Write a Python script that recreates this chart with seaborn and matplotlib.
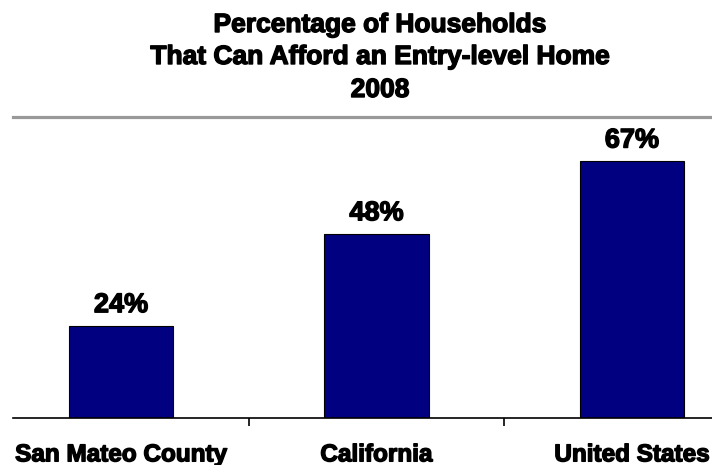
import matplotlib
matplotlib.use("Agg")
import matplotlib.pyplot as plt
import matplotlib.patheffects as pe
import seaborn as sns
import pandas as pd

categories = ["San Mateo County", "California", "United States"]
values = [24, 48, 67]
value_labels = ["24%", "48%", "67%"]
title_lines = ["Percentage of Households", "That Can Afford an Entry-level Home", "2008"]

sns.set_theme(style="white")
plt.rcParams["font.family"] = ["Liberation Sans", "DejaVu Sans"]

W, H = 712, 465
heavy = [pe.withStroke(linewidth=1.0, foreground="black")]

fig = plt.figure(figsize=(W / 100, H / 100), dpi=100)
# plot area: x from 13px to the right edge, y from 117px to 418px
ax = fig.add_axes([13 / W, (H - 418) / H, (W - 13) / W, (418 - 117) / H])

df = pd.DataFrame({"cat": categories, "val": values})
sns.barplot(data=df, x="cat", y="val", ax=ax, color="#000080", saturation=1,
            width=0.41, edgecolor="black", linewidth=0.8)

ax.set_xlim(-0.423, 2.313)
ax.set_ylim(0, 78.6)
ax.set_xlabel("")
ax.set_ylabel("")
ax.set_yticks([])

for sp in ("left", "right"):
    ax.spines[sp].set_visible(False)
ax.spines["top"].set_color("#999999")
ax.spines["top"].set_linewidth(2.3)
ax.spines["bottom"].set_color("black")
ax.spines["bottom"].set_linewidth(1.2)

ax.set_xticks(range(len(categories)))
ax.set_xticklabels(categories, fontsize=17.5, fontweight="bold", color="black")
for lab in ax.get_xticklabels():
    lab.set_verticalalignment("baseline")
    lab.set_path_effects(heavy)
ax.set_xticks([0.5, 1.5], minor=True)
ax.tick_params(axis="x", which="major", length=0, pad=31.2)
ax.tick_params(axis="x", which="minor", length=6, width=1.2, color="black",
               direction="out", bottom=True)

for i, (v, lab) in enumerate(zip(values, value_labels)):
    ax.annotate(lab, xy=(i, v), xytext=(0, 10), textcoords="offset points",
                ha="center", va="baseline", fontsize=19.5, fontweight="bold",
                color="black", path_effects=heavy)

baselines = [32, 64, 97]
for line, yb in zip(title_lines, baselines):
    fig.text(380 / W, 1 - yb / H, line, ha="center", va="baseline",
             fontsize=19, fontweight="bold", color="black", path_effects=heavy)

fig.savefig("out.png", dpi=100)
